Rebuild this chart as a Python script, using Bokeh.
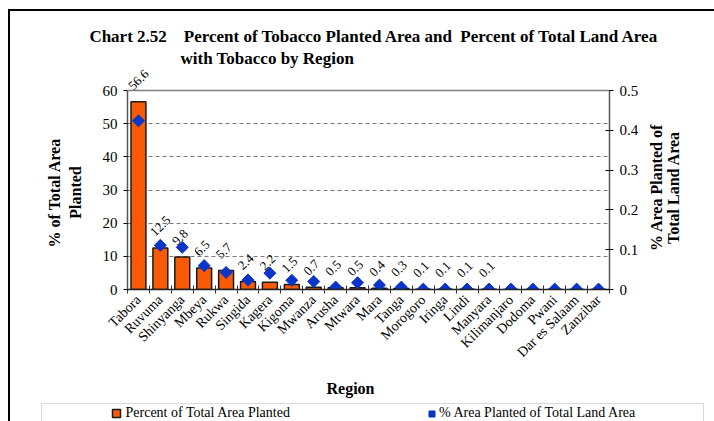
import math
from bokeh.plotting import figure
from bokeh.layouts import column, row
from bokeh.models import (Range1d, LinearAxis, FixedTicker, ColumnDataSource, LabelSet,
                          Label, Legend, LegendItem, Span, NumeralTickFormatter,
                          BoxAnnotation)
from bokeh.embed import file_html
from bokeh.resources import INLINE

# ---------------- data ----------------
regions = ["Tabora", "Ruvuma", "Shinyanga", "Mbeya", "Rukwa", "Singida", "Kagera",
           "Kigoma", "Mwanza", "Arusha", "Mtwara", "Mara", "Tanga", "Morogoro",
           "Iringa", "Lindi", "Manyara", "Kilimanjaro", "Dodoma", "Pwani",
           "Dar es Salaam", "Zanzibar"]
pct_total_area_planted = [56.6, 12.5, 9.8, 6.5, 5.7, 2.4, 2.2, 1.5, 0.7, 0.5, 0.5,
                          0.4, 0.3, 0.1, 0.1, 0.1, 0.1, 0.0, 0.0, 0.0, 0.0, 0.0]
pct_land_area_planted = [0.424, 0.111, 0.106, 0.060, 0.043, 0.024, 0.041, 0.023,
                         0.020, 0.006, 0.017, 0.011, 0.006, 0.001, 0.001, 0.001,
                         0.001, 0.001, 0.001, 0.001, 0.001, 0.001]
left_ticks = [0, 10, 20, 30, 40, 50, 60]
right_ticks = [0, 0.1, 0.2, 0.3, 0.4, 0.5]
series_names = ["Percent of Total Area Planted", "% Area Planted of Total Land Area"]

n = len(regions)
centers = [i + 0.5 for i in range(n)]
bounds = [float(i) for i in range(n + 1)]
labels = [f"{v:.1f}" if v > 0 else "" for v in pct_total_area_planted]

# ---------------- geometry (page pixels) ----------------
OX, OY = 10, 11                      # canvas origin (after margin + border)
LEFT_MAX, RIGHT_MAX = left_ticks[-1], right_ticks[-1]
YTOP = 73                            # room above the 60 line for the tallest label
FX0, FX1, FY1 = 127, 609, 289
PX_PER = (FY1 - 90) / LEFT_MAX
FH = round(YTOP * PX_PER)
FY0 = FY1 - FH
A_RIGHT = 645                        # page x where the main canvas ends
A_BOTTOM = 374                       # page y where the main canvas ends
TOTAL_W = 714 - OX

BAR_FILL, BAR_LINE = "#F85A08", "#1a1a1a"
PT_COLOR = "#0a35c8"
SERIF = "Liberation Serif"
SANS = "Liberation Sans"
NB = "\u00a0"


def dx(px):
    return (px - FX0) / (FX1 - FX0) * n


def dy(py):
    return (FY1 - py) / FH * YTOP


def strip(w, h, **kw):
    return figure(width=w, height=h, x_axis_type=None, y_axis_type=None,
                  output_backend="svg", toolbar_location=None,
                  background_fill_color="white", border_fill_color="white",
                  outline_line_color=None, **kw)


def bold_label(fig, x, y, text, size="16px", angle=0.0, align="center"):
    fig.add_layout(Label(x=x, y=y, text=text, angle=angle, text_align=align,
                         text_baseline="middle", text_font=SERIF, text_font_size=size,
                         text_font_style="bold", text_color="black"))


# ================= top strip: title line 1 =================
TH = FY0 - OY
pt_ = strip(TOTAL_W, TH, min_border=0, x_range=Range1d(0, TOTAL_W), y_range=Range1d(0, TH))
bold_label(pt_, 374 - OX, FY0 - 36,
           "Chart 2.52" + NB * 4 + "Percent of Tobacco Planted Area and" + NB * 2
           + "Percent of Total Land Area", size="17px")

# ================= main chart =================
p = figure(frame_width=FX1 - FX0, frame_height=FH,
           min_border_left=FX0 - OX, min_border_right=A_RIGHT - FX1,
           min_border_top=0, min_border_bottom=A_BOTTOM - FY1,
           x_range=Range1d(0, n), y_range=Range1d(0, YTOP),
           output_backend="svg", toolbar_location=None,
           background_fill_color="white", border_fill_color="white",
           outline_line_color=None)
p.extra_y_ranges = {"right": Range1d(0, RIGHT_MAX * YTOP / LEFT_MAX)}

p.xgrid.visible = False
p.ygrid.grid_line_color = "#7a7a7a"
p.ygrid.grid_line_dash = "4 3"
p.add_layout(Span(location=LEFT_MAX, dimension="width", line_color="#808080",
                  line_width=1.5))

xa = p.xaxis[0]
xa.ticker = FixedTicker(ticks=centers, minor_ticks=bounds)
xa.major_label_overrides = {c: r for c, r in zip(centers, regions)}
xa.major_label_orientation = math.pi / 4
xa.major_tick_in = 0
xa.major_tick_out = 0
xa.minor_tick_in = 4
xa.minor_tick_out = 4
xa.minor_tick_line_color = "#333333"
xa.axis_line_color = "#222222"
xa.axis_line_width = 1.5
xa.major_label_text_font = SERIF
xa.major_label_text_font_size = "14px"
xa.major_label_text_color = "black"
xa.major_label_standoff = 4

ya = p.yaxis[0]
ya.ticker = FixedTicker(ticks=left_ticks)
ya.bounds = (0, LEFT_MAX)
ya.major_tick_in = 0
ya.major_tick_out = 4
ya.minor_tick_line_color = None
ya.axis_line_color = "#555555"
ya.axis_line_width = 1.5
ya.major_label_text_font = SERIF
ya.major_label_text_font_size = "15px"
ya.major_label_text_color = "black"
ya.major_label_standoff = 6
ya.axis_label = "% of Total Area" + NB * 12 + "\nPlanted" + NB * 12
ya.axis_label_text_font = SERIF
ya.axis_label_text_font_size = "16px"
ya.axis_label_text_font_style = "bold"
ya.axis_label_text_color = "black"
ya.axis_label_standoff = 16

ra = LinearAxis(y_range_name="right", ticker=FixedTicker(ticks=right_ticks),
                formatter=NumeralTickFormatter(format="0.[0]"), bounds=(0, RIGHT_MAX))
ra.major_tick_in = 4
ra.major_tick_out = 4
ra.minor_tick_line_color = None
ra.axis_line_color = "#555555"
ra.axis_line_width = 1.5
ra.major_label_text_font = SERIF
ra.major_label_text_font_size = "15px"
ra.major_label_text_color = "black"
ra.major_label_standoff = 6
p.add_layout(ra, "right")

src = ColumnDataSource(dict(x=centers, bar=pct_total_area_planted,
                            pt=pct_land_area_planted, lab=labels))
p.vbar(x="x", top="bar", width=0.68, source=src,
       fill_color=BAR_FILL, line_color=BAR_LINE, line_width=1.5)
p.scatter(x="x", y="pt", source=src, y_range_name="right", marker="square",
          angle=math.pi / 4, size=8.5, fill_color=PT_COLOR, line_color=PT_COLOR)
p.add_layout(LabelSet(x="x", y="bar", text="lab", source=src, angle=math.pi / 4,
                      x_offset=-5, y_offset=11, text_align="left",
                      text_baseline="alphabetic", text_font=SANS,
                      text_font_size="13px", text_color="black"))
bold_label(p, dx(180), dy(58), "with Tobacco by Region", size="17px", align="left")

# ================= right strip: right-axis title (shares the left scale) =================
pr = strip(714 - A_RIGHT, A_BOTTOM - FY0, min_border_left=0, min_border_right=0,
           min_border_top=0, min_border_bottom=A_BOTTOM - FY1,
           x_range=Range1d(0, 714 - A_RIGHT), y_range=p.y_range)
bold_label(pr, 656 - A_RIGHT, dy(187), "% Area Planted of", angle=math.pi / 2)
bold_label(pr, 672.5 - A_RIGHT, dy(187), "Total Land Area", angle=math.pi / 2)

# ================= bottom strip: axis title + legend =================
CH = 421 - A_BOTTOM
pc = strip(TOTAL_W, CH, min_border=0, x_range=Range1d(0, TOTAL_W), y_range=Range1d(0, CH))
bold_label(pc, 350 - OX, 421 - 388, "Region")
pc.add_layout(BoxAnnotation(left=41 - OX, right=703 - OX, top=421 - 403, bottom=-20,
                            fill_alpha=0, line_color="#808080", line_width=1))
# legend keys (hidden renderers, shown only as legend swatches)
key_bar = pc.scatter(x="x", y="bar", source=src, visible=False, marker="square",
                     fill_color=BAR_FILL, line_color=BAR_LINE, line_width=1.5)
key_pt = pc.scatter(x="x", y="pt", source=src, visible=False, marker="square",
                    angle=math.pi / 4, fill_color=PT_COLOR, line_color=PT_COLOR)

KEY_CY = 413                         # page y of the legend row centre


def key(item_label, rend, left_px, glyph, standoff):
    pad = 3
    h = max(glyph, 16) + 2 * pad
    top = KEY_CY - h / 2
    return Legend(items=[LegendItem(label=item_label, renderers=[rend])],
                  orientation="horizontal", location=(left_px - pad - OX, 421 - top - h),
                  glyph_width=glyph, glyph_height=glyph, label_standoff=standoff,
                  label_height=16, padding=pad, margin=0, spacing=0,
                  label_text_font=SERIF, label_text_font_size="14px",
                  label_text_baseline="middle", label_text_color="black",
                  background_fill_alpha=0, border_line_alpha=0, inactive_fill_alpha=0)


pc.add_layout(key(series_names[0], key_bar, 105.5, 20, 0))
pc.add_layout(key(series_names[1], key_pt, 424, 15, 0))

layout = column(pt_, row(p, pr, spacing=0), pc, spacing=0)
layout.margin = (9, 0, 0, 8)
layout.styles = {"border-left": "2px solid black", "border-top": "2px solid black"}

open("out.html", "w").write(file_html(layout, INLINE))
